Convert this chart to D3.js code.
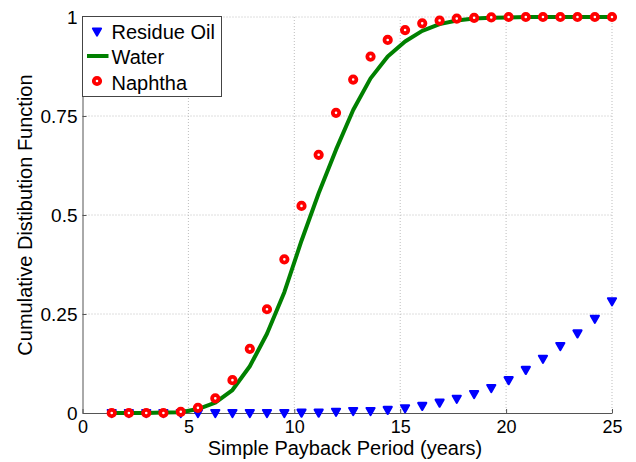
<!DOCTYPE html>
<html>
<head>
<meta charset="utf-8">
<script src="https://cdn.jsdelivr.net/npm/d3@7"></script>
<style>
  html, body { margin: 0; padding: 0; background: #fff; }
  svg { display: block; font-family: "Liberation Sans", Arial, sans-serif; }
</style>
</head>
<body>
<svg id="chart" width="636" height="462"></svg>
<script>
// ---- data ----
const xValues = [1.38, 2.19, 3.01, 3.82, 4.64, 5.45, 6.27, 7.08, 7.90, 8.71,
                 9.53, 10.34, 11.15, 11.97, 12.78, 13.60, 14.41, 15.23, 16.04, 16.86,
                 17.67, 18.49, 19.30, 20.12, 20.93, 21.74, 22.56, 23.37, 24.19, 25.00];
const residueOil = [0, 0, 0, 0, 0, 0, 0, 0, 0, 0,
                    0, 0.001, 0.001, 0.003, 0.005, 0.005, 0.008, 0.012, 0.018, 0.026,
                    0.036, 0.048, 0.063, 0.083, 0.109, 0.137, 0.169, 0.201, 0.238, 0.282];
const water = [0, 0, 0, 0.001, 0.002, 0.010, 0.026, 0.058, 0.118, 0.200,
               0.305, 0.435, 0.555, 0.665, 0.765, 0.845, 0.900, 0.938, 0.965, 0.982,
               0.991, 0.996, 0.998, 0.999, 1, 1, 1, 1, 1, 1];
const naphtha = [0, 0, 0, 0, 0.003, 0.013, 0.037, 0.083, 0.162, 0.262,
                 0.388, 0.523, 0.652, 0.758, 0.842, 0.900, 0.942, 0.967, 0.984, 0.991,
                 0.996, 0.998, 0.999, 1, 1, 1, 1, 1, 1, 1];
const seriesNames = ["Residue Oil", "Water", "Naphtha"];
const xTicks = [0, 5, 10, 15, 20, 25];
const yTicks = [0, 0.25, 0.5, 0.75, 1];
const yTickLabels = ["0", "0.25", "0.5", "0.75", "1"];
const xLabel = "Simple Payback Period (years)";
const yLabel = "Cumulative Distibution Function";

(function () {
// ---- layout ----
const svg = d3.select("#chart");
const pL = 82.5, pR = 612, pT = 17, pB = 413;
const x = d3.scaleLinear().domain([0, 25]).range([pL, pR]);
const y = d3.scaleLinear().domain([0, 1]).range([pB, pT]);

// grid
const grid = svg.append("g");
grid.selectAll("line.gx").data(xTicks.filter(d => d > 0)).enter().append("line")
  .attr("x1", d => x(d)).attr("x2", d => x(d)).attr("y1", pT).attr("y2", pB)
  .attr("stroke", "#bdbdbd").attr("stroke-width", 1).attr("stroke-dasharray", "1,2");
grid.selectAll("line.gy").data(yTicks.filter(d => d > 0)).enter().append("line")
  .attr("x1", pL).attr("x2", pR).attr("y1", d => y(d)).attr("y2", d => y(d))
  .attr("stroke", "#bdbdbd").attr("stroke-width", 1).attr("stroke-dasharray", "1,2");

// axes
const xAxis = d3.axisBottom(x).tickValues(xTicks).tickSizeInner(-4).tickSizeOuter(0).tickPadding(7)
  .tickFormat(d3.format("d"));
const gx = svg.append("g").attr("transform", `translate(0,${pB})`).call(xAxis);
gx.select(".domain").attr("stroke", "#555");
gx.selectAll(".tick line").attr("stroke", "#555");
gx.selectAll(".tick text").attr("font-size", 18).attr("fill", "#000")
  .attr("font-family", "Liberation Sans, Arial, sans-serif");

const yAxis = d3.axisLeft(y).tickValues(yTicks).tickSizeInner(-4).tickSizeOuter(0).tickPadding(5)
  .tickFormat((d, i) => yTickLabels[i]);
const gy = svg.append("g").attr("transform", `translate(${pL},0)`).call(yAxis);
gy.select(".domain").attr("stroke", "#555");
gy.selectAll(".tick line").attr("stroke", "#555");
gy.selectAll(".tick text").attr("font-size", 19).attr("fill", "#000")
  .attr("font-family", "Liberation Sans, Arial, sans-serif");

// axis titles
svg.append("text").attr("x", 345).attr("y", 455).attr("text-anchor", "middle")
  .attr("font-size", 20).attr("fill", "#000").text(xLabel);
svg.append("text").attr("transform", `translate(31.5,${(pT + pB) / 2}) rotate(-90)`)
  .attr("text-anchor", "middle").attr("font-size", 20).attr("fill", "#000").text(yLabel);

// marker shapes
const triPath = "M-4,-3 L4,-3 L0,4 Z";

// residue oil
svg.append("g").selectAll("path").data(xValues.map((d, i) => [d, residueOil[i]])).enter()
  .append("path").attr("d", triPath)
  .attr("transform", d => `translate(${x(d[0])},${y(d[1])})`)
  .attr("fill", "#0000ff").attr("stroke", "#0000ff").attr("stroke-width", 2.2)
  .attr("stroke-linejoin", "round");

// water
const line = d3.line().x(d => x(d[0])).y(d => y(d[1]));
svg.append("path").datum(xValues.map((d, i) => [d, water[i]]))
  .attr("d", line).attr("fill", "none").attr("stroke", "#008000").attr("stroke-width", 4)
  .attr("stroke-linejoin", "round");

// naphtha
svg.append("g").selectAll("circle").data(xValues.map((d, i) => [d, naphtha[i]])).enter()
  .append("circle").attr("cx", d => x(d[0])).attr("cy", d => y(d[1])).attr("r", 3.2)
  .attr("fill", "#fff").attr("stroke", "#ff0000").attr("stroke-width", 3.8);

// legend
const lg = svg.append("g");
lg.append("rect").attr("x", 82.5).attr("y", 16.5).attr("width", 139).attr("height", 80)
  .attr("fill", "#fff").attr("stroke", "#444").attr("stroke-width", 1);
const rows = [31.5, 56, 81];
const baselines = [38.5, 64, 89.5];
lg.append("path").attr("d", triPath).attr("transform", `translate(97,${rows[0]})`)
  .attr("fill", "#0000ff").attr("stroke", "#0000ff").attr("stroke-width", 2.2).attr("stroke-linejoin", "round");
lg.append("line").attr("x1", 87).attr("x2", 108.5).attr("y1", rows[1]).attr("y2", rows[1])
  .attr("stroke", "#008000").attr("stroke-width", 4);
lg.append("circle").attr("cx", 97).attr("cy", rows[2]).attr("r", 3.2)
  .attr("fill", "#fff").attr("stroke", "#ff0000").attr("stroke-width", 3.8);
lg.selectAll("text.lt").data(seriesNames).enter().append("text")
  .attr("x", 111.5).attr("y", (d, i) => baselines[i]).attr("font-size", 20).attr("fill", "#000")
  .text(d => d);
})();
</script>
</body>
</html>
